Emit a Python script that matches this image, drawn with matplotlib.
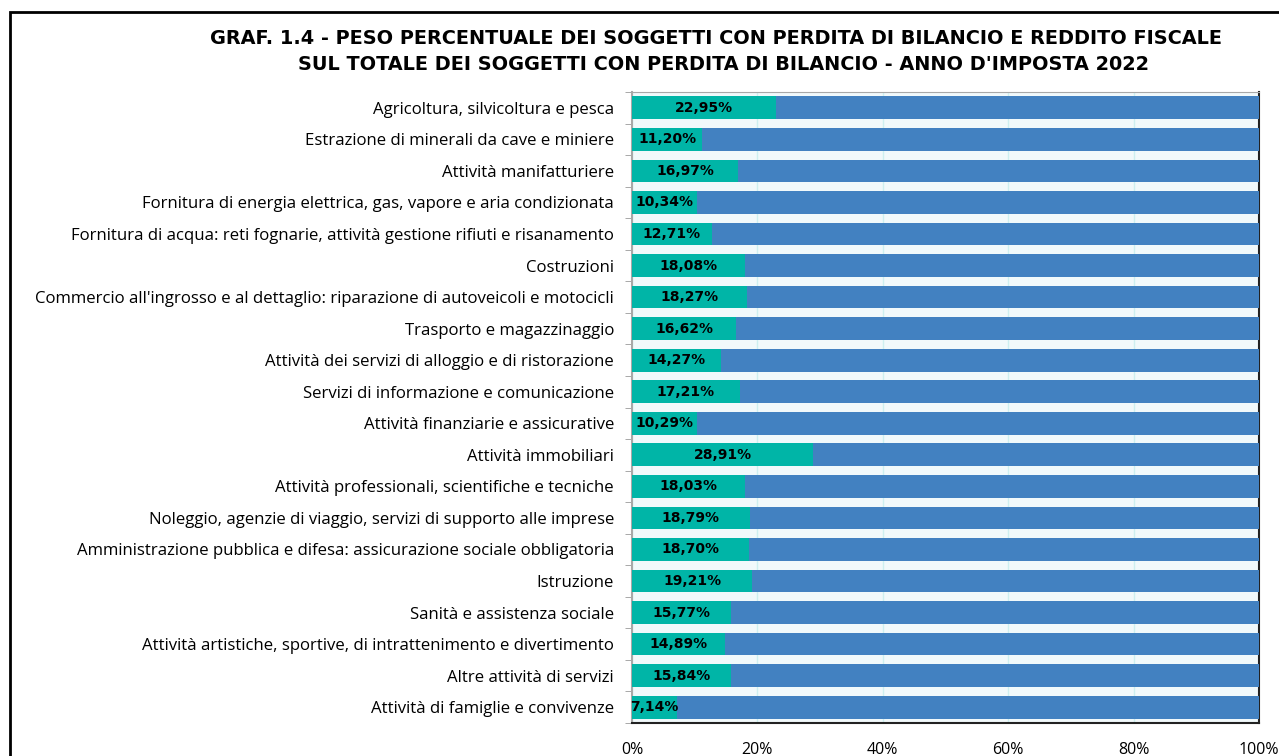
import matplotlib.pyplot as plt
import matplotlib.patches as mpatches
import numpy as np

# Settori di attività economica (dall'alto verso il basso)
settori = [
    'Agricoltura, silvicoltura e pesca',
    'Estrazione di minerali da cave e miniere',
    'Attività manifatturiere',
    'Fornitura di energia elettrica, gas, vapore e aria condizionata',
    'Fornitura di acqua: reti fognarie, attività gestione rifiuti e risanamento',
    'Costruzioni',
    "Commercio all'ingrosso e al dettaglio: riparazione di autoveicoli e motocicli",
    'Trasporto e magazzinaggio',
    'Attività dei servizi di alloggio e di ristorazione',
    'Servizi di informazione e comunicazione',
    'Attività finanziarie e assicurative',
    'Attività immobiliari',
    'Attività professionali, scientifiche e tecniche',
    'Noleggio, agenzie di viaggio, servizi di supporto alle imprese',
    'Amministrazione pubblica e difesa: assicurazione sociale obbligatoria',
    'Istruzione',
    'Sanità e assistenza sociale',
    'Attività artistiche, sportive, di intrattenimento e divertimento',
    'Altre attività di servizi',
    'Attività di famiglie e convivenze',
]

# Quota % dei soggetti con perdita di bilancio e reddito fiscale
quota_reddito = [22.95, 11.20, 16.97, 10.34, 12.71, 18.08, 18.27, 16.62, 14.27, 17.21,
                 10.29, 28.91, 18.03, 18.79, 18.70, 19.21, 15.77, 14.89, 15.84, 7.14]
quota_resto = [100 - v for v in quota_reddito]

x_ticks = [0, 20, 40, 60, 80, 100]

TEAL = '#00B5A7'
BLUE = '#4281C1'

fig = plt.figure(figsize=(12.79, 7.56), dpi=100)
ax = fig.add_axes([632 / 1279, 1 - 723 / 756, (1259 - 632) / 1279, (723 - 92) / 756])

y = np.arange(len(settori))
ax.barh(y, quota_reddito, height=0.72, color=TEAL, zorder=3)
ax.barh(y, quota_resto, left=quota_reddito, height=0.72, color=BLUE, zorder=3)

for yi, v in zip(y, quota_reddito):
    ax.text(v / 2, yi, f'{v:.2f}%'.replace('.', ','), ha='center', va='center',
            fontsize=10, fontweight='bold', family='DejaVu Sans', zorder=4)

ax.set_xlim(0, 100)
ax.set_ylim(len(settori) - 0.5, -0.5)
ax.set_facecolor('#F1F9FB')
ax.set_xticks(x_ticks)
ax.set_xticklabels([f'{t}%' for t in x_ticks], fontsize=11.5, family='Open Sans')
ax.tick_params(axis='x', length=0, pad=14)
ax.xaxis.grid(True, color='#CDEFF0', linewidth=1, zorder=0)

ax.set_yticks(y)
ax.set_yticklabels(settori, fontsize=12.1, family='Open Sans')
ax.set_yticks(np.arange(len(settori) + 1) - 0.5, minor=True)
ax.tick_params(axis='y', which='major', length=0, pad=13)
ax.tick_params(axis='y', which='minor', length=5, color='#9A9A9A', direction='out')

ax.spines['top'].set_color('#A8A8A8')
ax.spines['left'].set_color('#A8A8A8')
ax.spines['left'].set_linewidth(1.5)
ax.spines['right'].set_color('#222222')
ax.spines['bottom'].set_color('#222222')
ax.spines['right'].set_linewidth(1.5)
ax.spines['bottom'].set_linewidth(1.5)

fig.text(716 / 1279, 1 - 38 / 756,
         'GRAF. 1.4 - PESO PERCENTUALE DEI SOGGETTI CON PERDITA DI BILANCIO E REDDITO FISCALE',
         ha='center', va='center', fontsize=13.9, fontweight='bold', family='DejaVu Sans')
fig.text(724 / 1279, 1 - 64 / 756,
         "SUL TOTALE DEI SOGGETTI CON PERDITA DI BILANCIO - ANNO D'IMPOSTA 2022",
         ha='center', va='center', fontsize=13.9, fontweight='bold', family='DejaVu Sans')

# cornice esterna del grafico
frame = mpatches.Rectangle((10 / 1279, -0.05), 1.2, 1 - 12 / 756 + 0.05,
                           transform=fig.transFigure, fill=False,
                           edgecolor='black', linewidth=2, clip_on=False)
fig.patches.append(frame)

fig.savefig('out.png', dpi=100, facecolor='white')
